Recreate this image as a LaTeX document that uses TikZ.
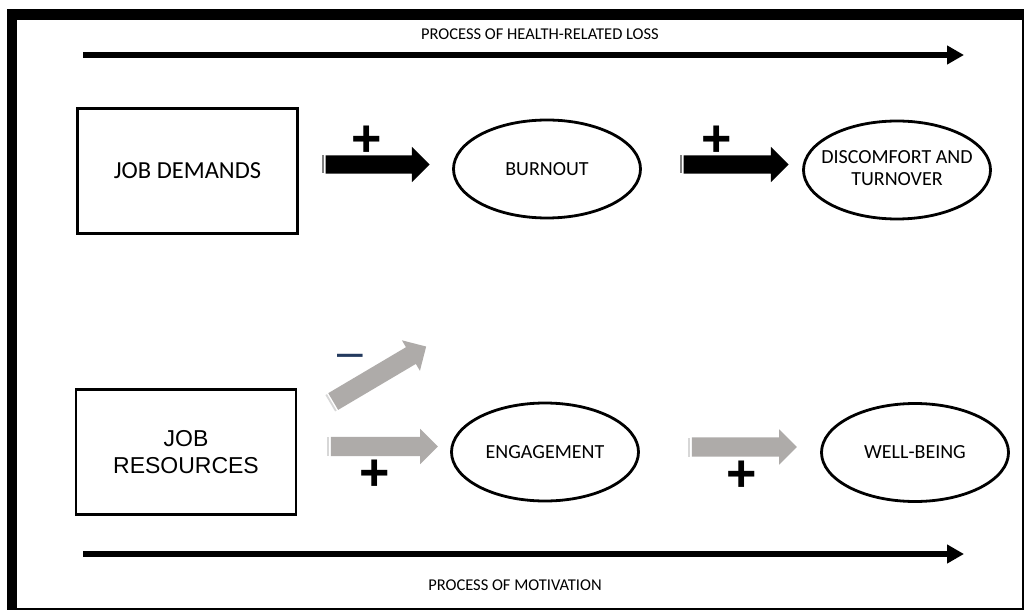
\documentclass[tikz,border=0pt]{standalone}
\usepackage{fontspec}
\setmainfont{Carlito}
\newfontfamily\arialfont{Liberation Sans}
\usetikzlibrary{shapes.geometric,shapes.arrows,arrows.meta,calc}

\definecolor{arrowgray}{RGB}{174,171,169}
\definecolor{dashnavy}{RGB}{35,58,94}
\definecolor{stripegray}{RGB}{128,128,128}
\definecolor{stripelight}{RGB}{215,215,215}

\begin{document}
\begin{tikzpicture}[x=1pt,y=-1pt,
  conceptbox/.style={draw, line width=2.6pt, inner sep=0pt, minimum width=220pt,
    minimum height=125pt, align=center},
  oval/.style={draw, ellipse, line width=2.8pt, inner sep=0pt, minimum width=187pt,
    minimum height=98pt, font=\fontsize{20}{22}\selectfont},
  blockarrow/.style={single arrow, inner xsep=0pt, outer sep=0pt,
    single arrow tip angle=90},
  darkarrow/.style={blockarrow, fill=black, inner ysep=9pt, single arrow head extend=8.5pt},
  lightarrow/.style={blockarrow, fill=arrowgray, inner ysep=9.5pt, single arrow head extend=8pt},
  tailstripe/.style={rectangle, inner sep=0pt, minimum width=1.8pt, minimum height=18pt},
  sign/.style={inner sep=0pt, font=\arialfont\bfseries\fontsize{52}{52}\selectfont},
  process/.style={line width=6pt, -{Triangle[length=17pt,width=18pt]}},
  processlabel/.style={inner sep=0pt, font=\fontsize{16.5}{18}\selectfont}
]
\useasboundingbox (0,0) rectangle (1025,612);
\fill[white] (0,0) rectangle (1025,612);

% frame: heavy top and left edges, thin right and bottom edges
\fill[black] (7,9) rectangle (1024,610);
\fill[white] (17,20) rectangle (1022,608);

% process arrows along the top and bottom
\coordinate (lossstart) at (83,55);
\coordinate (lossend) at (964,55);
\coordinate (motstart) at (83,554);
\coordinate (motend) at (964,554);
\draw[process] (lossstart) -- (lossend);
\draw[process] (motstart) -- (motend);
\node[processlabel] (losslabel) at (540,34) {PROCESS OF HEALTH-RELATED LOSS};
\node[processlabel] (motlabel) at (515,585) {PROCESS OF MOTIVATION};

% concepts
\node[conceptbox, font=\fontsize{24.5}{26}\selectfont] (demands) at (187.5,171) {JOB DEMANDS};
\node[conceptbox, font=\arialfont\fontsize{23}{27}\selectfont] (resources) at (186,452) {JOB\\RESOURCES};

\node[oval] (burnout) at (547,169) {BURNOUT};
\node[oval] (discomfort) at (897,170)
  {\makebox[0pt]{\begin{tabular}{@{}c@{}}DISCOMFORT AND\\TURNOVER\end{tabular}}};
\node[oval] (engagement) at (545,452) {ENGAGEMENT};
\node[oval] (wellbeing) at (915,452.5) {WELL-BEING};

% block arrows of the health-impairment row
\node[darkarrow, minimum height=104pt] (db) at (373,164.5) {};
\node[darkarrow, minimum height=105pt] (bd) at (731.5,164.5) {};
\node[tailstripe, fill=stripegray] (dbs) at ($(db.tail)!-3pt!(db.tip)$) {};
\node[tailstripe, fill=stripegray] (bds) at ($(bd.tail)!-3pt!(bd.tip)$) {};

% block arrows of the motivational row
\node[lightarrow, minimum height=108pt, rotate=30.6] (rb) at (375.5,376.5) {};
\node[lightarrow, minimum height=107pt] (re) at (379.5,446.5) {};
\node[lightarrow, minimum height=105pt] (ew) at (739.5,447) {};
\node[tailstripe, fill=stripelight, minimum height=19pt, rotate=30.6] (rbs) at ($(rb.tail)!-2.5pt!(rb.tip)$) {};
\node[tailstripe, fill=stripelight, minimum height=19pt] (res) at ($(re.tail)!-2.5pt!(re.tip)$) {};
\node[tailstripe, fill=stripelight, minimum height=19pt] (ews) at ($(ew.tail)!-2.5pt!(ew.tip)$) {};

% signs of the effects
\node[sign] (plusdb) at (367,141) {+};
\node[sign] (plusbd) at (717,141) {+};
\node[sign] (plusre) at (375,475) {+};
\node[sign] (plusew) at (742,476) {+};
\node[sign, font=\arialfont\fontsize{46}{46}\selectfont, text=dashnavy] (minusrb) at (350,361) {–};
\end{tikzpicture}
\end{document}
